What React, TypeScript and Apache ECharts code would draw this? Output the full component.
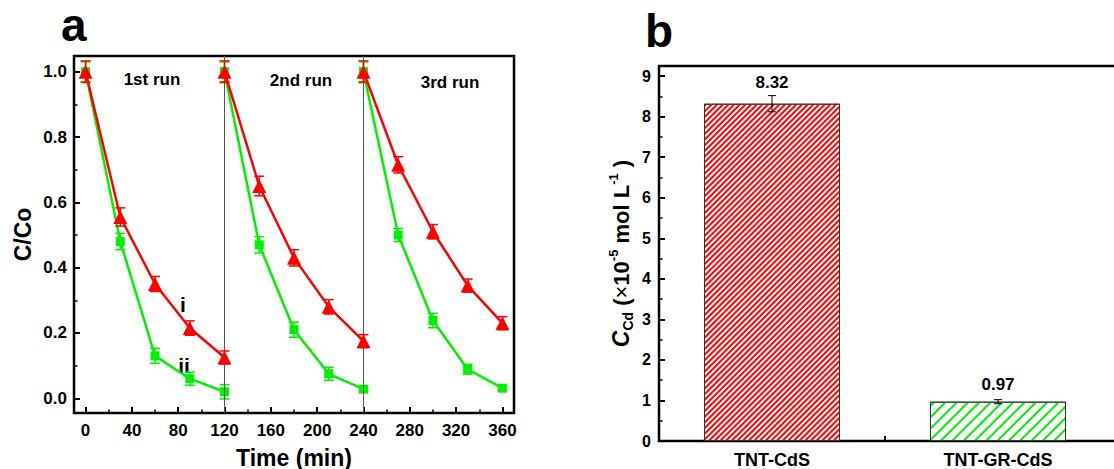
import React, { useEffect, useRef } from "react";
import * as echarts from "echarts";

// ---------- Panel a data ----------
const runTimes = [
  [0, 30, 60, 90, 120],
  [120, 150, 180, 210, 240],
  [240, 270, 300, 330, 360],
];
const seriesI = [
  [1.0, 0.555, 0.35, 0.215, 0.125],
  [1.0, 0.65, 0.43, 0.28, 0.175],
  [1.0, 0.715, 0.51, 0.345, 0.23],
];
const errI = [
  [0.033, 0.028, 0.023, 0.022, 0.02],
  [0.033, 0.03, 0.025, 0.022, 0.02],
  [0.033, 0.025, 0.022, 0.02, 0.02],
];
const seriesII = [
  [1.0, 0.48, 0.13, 0.06, 0.02],
  [1.0, 0.47, 0.21, 0.075, 0.028],
  [1.0, 0.5, 0.238, 0.089, 0.031],
];
const errII = [
  [0.03, 0.025, 0.023, 0.02, 0.022],
  [0.03, 0.025, 0.023, 0.02, 0.005],
  [0.03, 0.02, 0.022, 0.015, 0.005],
];
const xMajorA = [0, 40, 80, 120, 160, 200, 240, 280, 320, 360];
const xMinorA = [20, 60, 100, 140, 180, 220, 260, 300, 340];
const yMajorA = [0, 0.2, 0.4, 0.6, 0.8, 1.0];
const yMinorA = [0.1, 0.3, 0.5, 0.7, 0.9];
const runSeparators = [120, 240];

// ---------- Panel b data ----------
const categoriesB = ["TNT-CdS", "TNT-GR-CdS"];
const valuesB = [8.32, 0.97];
const errorsB = [0.2, 0.05];
const yMajorB = [0, 1, 2, 3, 4, 5, 6, 7, 8, 9];
const yMinorB = [0.5, 1.5, 2.5, 3.5, 4.5, 5.5, 6.5, 7.5, 8.5];

const RED = "#ff0000";
const GREEN = "#00f000";
const FONT = "'Liberation Sans', Arial, Helvetica, sans-serif";

export default function App() {
  const ref = useRef<HTMLDivElement>(null);

  useEffect(() => {
    if (!ref.current) return;
    const chart = echarts.init(ref.current, null, { renderer: "svg" });

    const errRender = (color: string, hw: number, lw: number) => (params: any, api: any) => {
      const x = api.value(0);
      const y = api.value(1);
      const e = api.value(2);
      const top = api.coord([x, y + e]);
      const bot = api.coord([x, y - e]);
      const st = { stroke: color, lineWidth: lw };
      return {
        type: "group",
        children: [
          { type: "line", shape: { x1: top[0], y1: top[1], x2: bot[0], y2: bot[1] }, style: st },
          { type: "line", shape: { x1: top[0] - hw, y1: top[1], x2: top[0] + hw, y2: top[1] }, style: st },
          { type: "line", shape: { x1: bot[0] - hw, y1: bot[1], x2: bot[0] + hw, y2: bot[1] }, style: st },
        ],
      };
    };

    const series: any[] = [];
    runTimes.forEach((times, r) => {
      series.push({
        type: "line",
        xAxisIndex: 0,
        yAxisIndex: 0,
        data: times.map((t, i) => [t, seriesII[r][i]]),
        symbol: "rect",
        symbolSize: 9,
        lineStyle: { color: GREEN, width: 2.5 },
        itemStyle: { color: GREEN },
        z: 3,
        ...(r === 0
          ? {
              markLine: {
                silent: true,
                symbol: "none",
                label: { show: false },
                lineStyle: { color: "#555", width: 1, type: "solid" },
                data: runSeparators.map((v) => ({ xAxis: v })),
              },
            }
          : {}),
      });
      series.push({
        type: "custom",
        xAxisIndex: 0,
        yAxisIndex: 0,
        renderItem: errRender(GREEN, 5, 1.5),
        data: times.map((t, i) => [t, seriesII[r][i], errII[r][i]]),
        z: 4,
      });
    });
    runTimes.forEach((times, r) => {
      series.push({
        type: "line",
        xAxisIndex: 0,
        yAxisIndex: 0,
        data: times.map((t, i) => [t, seriesI[r][i]]),
        symbol: "triangle",
        symbolSize: 14,
        lineStyle: { color: RED, width: 2.5 },
        itemStyle: { color: RED },
        z: 5,
      });
      series.push({
        type: "custom",
        xAxisIndex: 0,
        yAxisIndex: 0,
        renderItem: errRender(RED, 5, 1.5),
        data: times.map((t, i) => [t, seriesI[r][i], errI[r][i]]),
        z: 6,
      });
    });

    const decals = [
      { symbol: "rect", symbolSize: 1, dashArrayX: [1, 0], dashArrayY: [1.1, 1.1], rotation: -Math.PI / 4, color: RED },
      { symbol: "rect", symbolSize: 1, dashArrayX: [1, 0], dashArrayY: [1.6, 5.4], rotation: -Math.PI / 4, color: GREEN },
    ];
    const labelDistances = [13, 9];

    series.push({
      type: "bar",
      xAxisIndex: 2,
      yAxisIndex: 2,
      barWidth: 136,
      data: valuesB.map((v, i) => ({
        value: [i + 1, v],
        itemStyle: { color: "#ffffff", borderColor: "#333", borderWidth: 1, decal: decals[i] },
        label: { distance: labelDistances[i] },
      })),
      label: {
        show: true,
        position: "top",
        distance: 13,
        formatter: (p: any) => p.value[1].toFixed(2),
        fontFamily: FONT,
        fontWeight: "bold",
        fontSize: 17,
        color: "#000",
      },
    });
    series.push({
      type: "custom",
      xAxisIndex: 2,
      yAxisIndex: 2,
      renderItem: errRender("#000", 4, 1),
      data: valuesB.map((v, i) => [i + 1, v, errorsB[i]]),
      z: 5,
    });

    const labelStyle = { fontFamily: FONT, fontWeight: "bold", color: "#000" };
    const tickMajor = { show: true, inside: true, length: 6, lineStyle: { color: "#000", width: 2 } };
    const tickMinor = { show: true, inside: true, length: 3.5, lineStyle: { color: "#000", width: 1.5 } };
    const noLine = { show: false, onZero: false };

    const option: any = {
      animation: false,
      backgroundColor: "#fff",
      grid: [
        {
          left: 74, top: 56, right: 600, bottom: 56, containLabel: false, outerBoundsMode: "none",
          show: true, borderColor: "#000", borderWidth: 2.5, backgroundColor: "transparent",
        },
        {
          left: 659, top: 66, width: 459, bottom: 28, containLabel: false, outerBoundsMode: "none",
          show: true, borderColor: "#000", borderWidth: 2.5, backgroundColor: "transparent",
        },
      ],
      xAxis: [
        {
          type: "value", gridIndex: 0, min: -10, max: 370, position: "bottom",
          axisLine: noLine, splitLine: { show: false },
          axisTick: { ...tickMajor, customValues: xMajorA },
          axisLabel: { ...labelStyle, fontSize: 17, margin: 9, customValues: xMajorA, formatter: (v: number) => String(v) },
          name: "Time (min)", nameLocation: "middle", nameGap: 33,
          nameTextStyle: { ...labelStyle, fontSize: 23 },
        },
        {
          type: "value", gridIndex: 0, min: -10, max: 370, position: "bottom",
          axisLine: noLine, splitLine: { show: false },
          axisTick: { ...tickMinor, customValues: xMinorA },
          axisLabel: { show: false },
        },
        {
          type: "value", gridIndex: 1, min: 0.5, max: 2.531, position: "bottom",
          axisLine: noLine, splitLine: { show: false },
          axisTick: { ...tickMajor, length: 5, customValues: [1, 1.5, 2] },
          axisLabel: {
            ...labelStyle, fontSize: 18, margin: 10, customValues: [1, 2],
            formatter: (v: number) => categoriesB[Math.round(v) - 1] ?? "",
          },
        },
      ],
      yAxis: [
        {
          type: "value", gridIndex: 0, min: -0.045, max: 1.048, position: "left",
          axisLine: noLine, splitLine: { show: false },
          axisTick: { ...tickMajor, customValues: yMajorA },
          axisLabel: { ...labelStyle, fontSize: 17, margin: 7, customValues: yMajorA, formatter: (v: number) => v.toFixed(1) },
          name: "C/Co", nameLocation: "middle", nameGap: 40,
          nameTextStyle: { ...labelStyle, fontSize: 23 },
        },
        {
          type: "value", gridIndex: 0, min: -0.045, max: 1.048, position: "left",
          axisLine: noLine, splitLine: { show: false },
          axisTick: { ...tickMinor, customValues: yMinorA },
          axisLabel: { show: false },
        },
        {
          type: "value", gridIndex: 1, min: 0, max: 9.25, position: "left",
          axisLine: noLine, splitLine: { show: false },
          axisTick: { ...tickMajor, customValues: yMajorB },
          axisLabel: { ...labelStyle, fontSize: 16, margin: 8, customValues: yMajorB, formatter: (v: number) => String(v) },
          name: "{ci|C}{sub|Cd}{n| (}{nn|×}{n|10}{sup|-5}{n| mol L}{sup|-1}{n| )}",
          nameLocation: "middle", nameGap: 24,
          nameTextStyle: {
            ...labelStyle, fontSize: 22,
            rich: {
              ci: { fontFamily: FONT, fontWeight: "bold", fontStyle: "italic", fontSize: 23, lineHeight: 28, color: "#000" },
              sub: { fontFamily: FONT, fontWeight: "bold", fontSize: 14, lineHeight: 16, verticalAlign: "bottom", color: "#000" },
              n: { fontFamily: FONT, fontWeight: "bold", fontSize: 22, lineHeight: 28, color: "#000" },
              nn: { fontFamily: FONT, fontWeight: "normal", fontSize: 22, lineHeight: 28, color: "#000" },
              sup: { fontFamily: FONT, fontWeight: "bold", fontSize: 13, lineHeight: 14, verticalAlign: "top", color: "#000" },
            },
          },
        },
        {
          type: "value", gridIndex: 1, min: 0, max: 9.25, position: "left",
          axisLine: noLine, splitLine: { show: false },
          axisTick: { ...tickMinor, customValues: yMinorB },
          axisLabel: { show: false },
        },
      ],
      graphic: [
        { type: "text", left: 61, top: 2, style: { text: "a", font: `bold 46px ${FONT}`, fill: "#000" } },
        { type: "text", left: 645, top: 8, style: { text: "b", font: `bold 46px ${FONT}`, fill: "#000" } },
        { type: "text", x: 152, y: 79, style: { text: "1st run", font: `bold 17px ${FONT}`, fill: "#000", align: "center", verticalAlign: "middle" } },
        { type: "text", x: 301, y: 80, style: { text: "2nd run", font: `bold 17px ${FONT}`, fill: "#000", align: "center", verticalAlign: "middle" } },
        { type: "text", x: 450, y: 82, style: { text: "3rd run", font: `bold 17px ${FONT}`, fill: "#000", align: "center", verticalAlign: "middle" } },
        { type: "text", x: 183, y: 304, style: { text: "i", font: `bold 21px ${FONT}`, fill: "#000", align: "center", verticalAlign: "middle" } },
        { type: "text", x: 184, y: 365, style: { text: "ii", font: `bold 21px ${FONT}`, fill: "#000", align: "center", verticalAlign: "middle" } },
      ],
      series,
    };

    chart.setOption(option);
    return () => chart.dispose();
  }, []);

  return <div ref={ref} style={{ width: 1114, height: 469, position: "absolute", left: 0, top: 0 }} />;
}
